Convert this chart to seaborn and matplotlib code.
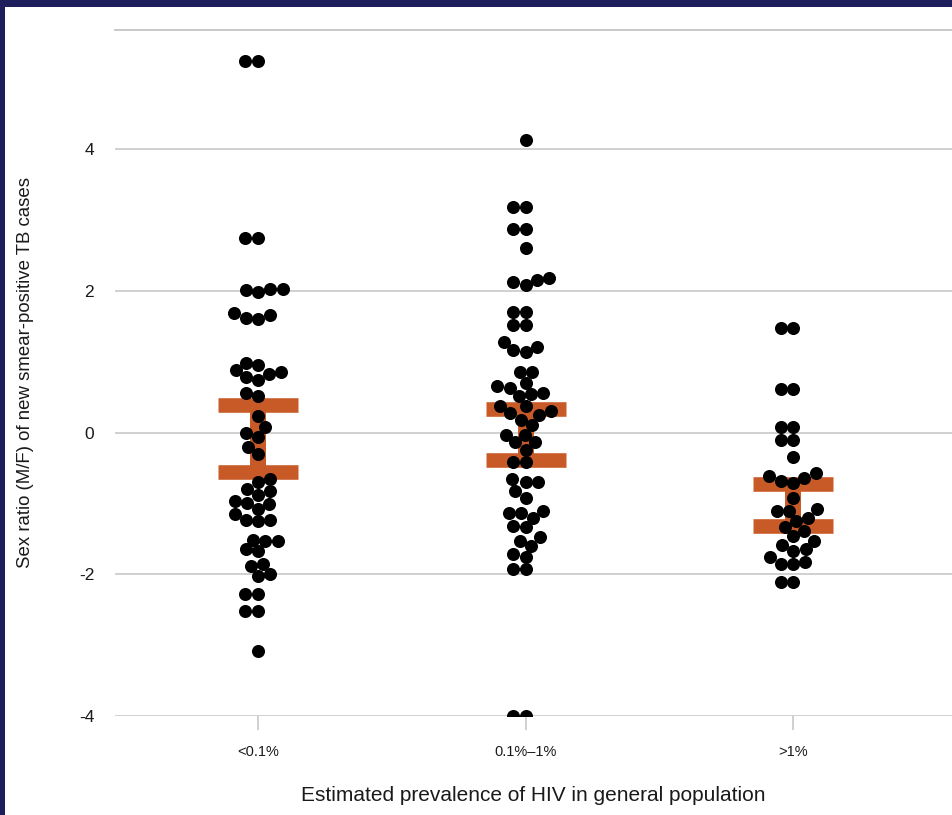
import numpy as np
import pandas as pd
import matplotlib
matplotlib.use("Agg")
import matplotlib.pyplot as plt
from matplotlib.patches import Rectangle
import seaborn as sns

# HIV prevalence groups on the x axis
categories = ["<0.1%", "0.1%–1%", ">1%"]

# Sex ratio (M/F) of new smear-positive TB cases, one value per country
ratio_low_hiv = [5.24, 5.24, 2.75, 2.75, 2.02, 2.02, 2.01, 1.98, 1.68, 1.66,
                 1.62, 1.60, 0.98, 0.95, 0.88, 0.85, 0.82, 0.78, 0.74, 0.56,
                 0.51, 0.23, 0.08, 0.00, -0.06, -0.21, -0.31, -0.66, -0.70,
                 -0.80, -0.83, -0.88, -0.97, -0.99, -1.01, -1.08, -1.15,
                 -1.23, -1.23, -1.25, -1.51, -1.53, -1.53, -1.65, -1.67,
                 -1.86, -1.89, -2.00, -2.03, -2.28, -2.28, -2.52, -2.52, -3.08]
ratio_mid_hiv = [4.13, 3.18, 3.18, 2.87, 2.87, 2.61, 2.18, 2.15, 2.12, 2.08,
                 1.70, 1.70, 1.52, 1.52, 1.28, 1.21, 1.17, 1.14, 0.86, 0.85,
                 0.70, 0.65, 0.63, 0.56, 0.54, 0.51, 0.37, 0.37, 0.30, 0.28,
                 0.25, 0.18, 0.11, -0.03, -0.03, -0.13, -0.14, -0.24, -0.41,
                 -0.41, -0.66, -0.70, -0.70, -0.82, -0.92, -1.11, -1.13, -1.13,
                 -1.20, -1.32, -1.34, -1.48, -1.53, -1.60, -1.72, -1.75, -1.93,
                 -1.93, -4.00, -4.00]
ratio_high_hiv = [1.48, 1.48, 0.62, 0.62, 0.08, 0.08, -0.10, -0.10, -0.35,
                  -0.57, -0.62, -0.64, -0.69, -0.71, -0.93, -1.08, -1.11,
                  -1.11, -1.20, -1.25, -1.33, -1.39, -1.46, -1.53, -1.58,
                  -1.65, -1.67, -1.76, -1.83, -1.86, -1.86, -2.11, -2.11]

# Confidence interval per group
interval_low = [-0.556, -0.394, -1.317]
interval_high = [0.390, 0.338, -0.725]

y_ticks = [-4, -2, 0, 2, 4]
y_tick_labels = ["-4", "-2", "0", "2", "4"]

df = pd.DataFrame({
    "prevalence": ([categories[0]] * len(ratio_low_hiv)
                   + [categories[1]] * len(ratio_mid_hiv)
                   + [categories[2]] * len(ratio_high_hiv)),
    "ratio": ratio_low_hiv + ratio_mid_hiv + ratio_high_hiv,
})

plt.rcParams["font.family"] = ["Liberation Sans", "DejaVu Sans"]

W, H = 952, 815
fig = plt.figure(figsize=(W / 100, H / 100), dpi=100)
fig.patch.set_facecolor("white")

# navy frame along the top and left edges
navy = "#1f1e5c"
fig.patches.append(Rectangle((0, 1 - 7 / H), 1, 7 / H, transform=fig.transFigure,
                             facecolor=navy, edgecolor="none", zorder=0))
fig.patches.append(Rectangle((0, 0), 5 / W, 1, transform=fig.transFigure,
                             facecolor=navy, edgecolor="none", zorder=0))

ax = fig.add_axes([115 / W, (H - 716) / H, (W - 115) / W, (716 - 30) / H])

grid_col = "#c8c8c8"
for v in y_ticks:
    ax.axhline(v, color=grid_col, lw=1.2, zorder=0)

# interval bars behind the points
centers = [(a + b) / 2 for a, b in zip(interval_low, interval_high)]
halves = [(b - a) / 2 for a, b in zip(interval_low, interval_high)]
orange = "#c85a28"
eb = ax.errorbar(x=[0, 1, 2], y=centers, yerr=halves, fmt="none", ecolor=orange,
                 elinewidth=11.5, capsize=29, capthick=10.5, zorder=2)
for lc in eb.lines[2]:
    lc.set_capstyle("butt")

before = list(ax.collections)
sns.swarmplot(data=df, x="prevalence", y="ratio", order=categories,
              color="black", size=8.6, linewidth=0, ax=ax, zorder=3)
swarm_cols = [c for c in ax.collections if c not in before]

ax.set_xlim(-0.5346, 2.594)
ax.set_ylim(-4, 5.68)
ax.set_yticks(y_ticks)
ax.set_yticklabels(y_tick_labels)
ax.set_xticks([0, 1, 2])
ax.set_xticklabels(categories)
ax.tick_params(axis="y", length=0, pad=15, labelsize=12.5, labelcolor="#1a1a1a")
ax.tick_params(axis="x", length=10, width=1.2, color=grid_col, pad=11,
               labelsize=10.5, labelcolor="#1a1a1a")
for side in ("left", "right", "bottom"):
    ax.spines[side].set_visible(False)
ax.spines["top"].set_color(grid_col)
ax.spines["top"].set_linewidth(1.4)

ax.set_xlabel("Estimated prevalence of HIV in general population",
              fontsize=15, color="#1a1a1a", labelpad=19)
ax.set_ylabel("Sex ratio (M/F) of new smear-positive TB cases",
              fontsize=13.4, color="#1a1a1a", labelpad=32)

# lay the swarm out once, then keep positions and enlarge the dots
fig.canvas.draw()
for c in swarm_cols:
    if "draw" in c.__dict__:
        del c.draw
    c.set_sizes([9.4 ** 2])

fig.savefig("out.png", dpi=100, facecolor="white")
